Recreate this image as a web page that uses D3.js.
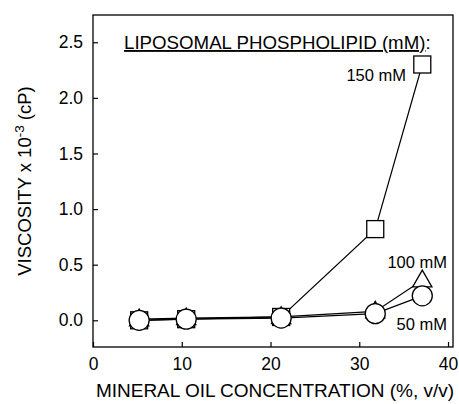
<!DOCTYPE html>
<html><head><meta charset="utf-8">
<script src="https://cdn.jsdelivr.net/npm/d3@7"></script>
<style>body{margin:0;background:#fff;} text{font-family:"Liberation Sans",Arial,sans-serif;fill:#000;}</style>
</head><body>
<svg id="c" width="459" height="404"></svg>
<script>
const oilConc = [5.2, 10.5, 21.2, 31.8, 37.1];
const mM150 = [0.00, 0.01, 0.03, 0.82, 2.30];
const mM100 = [0.01, 0.02, 0.03, 0.08, 0.36];
const mM50  = [0.00, 0.01, 0.02, 0.06, 0.22];
const xTicks = [0, 10, 20, 30, 40];
const yTicks = [0.0, 0.5, 1.0, 1.5, 2.0, 2.5];

const svg = d3.select("#c");
const L = 93, R = 453, T = 15, B = 347;
const x = d3.scaleLinear().domain([0, 40.56]).range([L, R]);
const y = d3.scaleLinear().domain([-0.24, 2.745]).range([B, T]);

svg.append("rect").attr("x", L).attr("y", T).attr("width", R - L).attr("height", B - T)
  .attr("fill", "none").attr("stroke", "#000").attr("stroke-width", 1.3);

const xa = svg.append("g").attr("transform", `translate(0,${B})`)
  .call(d3.axisBottom(x).tickValues(xTicks).tickSize(-5).tickPadding(11).tickFormat(d3.format("d")));
const ya = svg.append("g").attr("transform", `translate(${L},0)`)
  .call(d3.axisLeft(y).tickValues(yTicks).tickSize(-5).tickPadding(10).tickFormat(d3.format(".1f")));
[xa, ya].forEach(a => {
  a.select(".domain").remove();
  a.selectAll("line").attr("stroke", "#000").attr("stroke-width", 1.2);
  a.selectAll("text").attr("font-size", 17.5).attr("font-family", "Liberation Sans, Arial, sans-serif");
});

const line = d3.line().x((d, i) => x(oilConc[i])).y(d => y(d));
[mM150, mM100, mM50].forEach(s => {
  svg.append("path").attr("d", line(s)).attr("fill", "none").attr("stroke", "#000").attr("stroke-width", 1.2);
});

// squares
svg.selectAll(".sq").data(mM150).enter().append("rect")
  .attr("x", (d, i) => x(oilConc[i]) - 8.5).attr("y", d => y(d) - 8.5)
  .attr("width", 17).attr("height", 17)
  .attr("fill", "#fff").attr("stroke", "#000").attr("stroke-width", 1.3);
// triangles
const tri = d3.symbol().type(d3.symbolTriangle).size(160);
svg.selectAll(".tr").data(mM100).enter().append("path")
  .attr("d", tri).attr("transform", (d, i) => `translate(${x(oilConc[i])},${y(d) + 1})`)
  .attr("fill", "#fff").attr("stroke", "#000").attr("stroke-width", 1.3);
// circles
svg.selectAll(".ci").data(mM50).enter().append("circle")
  .attr("cx", (d, i) => x(oilConc[i])).attr("cy", d => y(d)).attr("r", 10)
  .attr("fill", "#fff").attr("stroke", "#000").attr("stroke-width", 1.3);

// labels
svg.append("text").attr("x", 124).attr("y", 49).attr("font-size", 18.7)
  .html('<tspan text-decoration="underline">LIPOSOMAL PHOSPHOLIPID (mM)</tspan>:');
svg.append("text").attr("x", 406).attr("y", 81).attr("text-anchor", "end").attr("font-size", 16.5).text("150 mM");
svg.append("text").attr("x", 447).attr("y", 268).attr("text-anchor", "end").attr("font-size", 16.5).text("100 mM");
svg.append("text").attr("x", 447).attr("y", 330).attr("text-anchor", "end").attr("font-size", 16.5).text("50 mM");

svg.append("text").attr("x", 275).attr("y", 397).attr("text-anchor", "middle").attr("font-size", 19)
  .text("MINERAL OIL CONCENTRATION (%, v/v)");
svg.append("text").attr("transform", "translate(31,181) rotate(-90)").attr("text-anchor", "middle").attr("font-size", 18.5)
  .html('VISCOSITY x 10<tspan dy="-7" font-size="13.5">-3</tspan><tspan dy="7"> (cP)</tspan>');
</script>
</body></html>
